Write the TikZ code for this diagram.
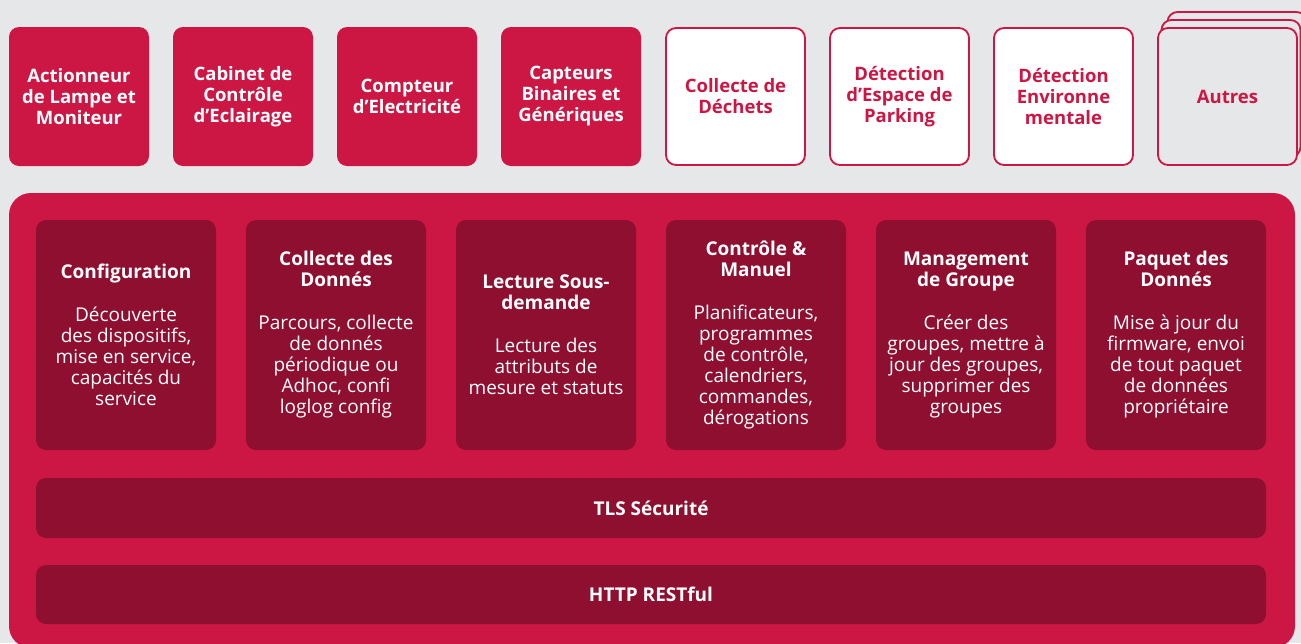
\documentclass[tikz,border=0pt]{standalone}
\usepackage{fontspec}
\setmainfont{Open Sans}
\usetikzlibrary{positioning}
\definecolor{crim}{HTML}{CC1744}
\definecolor{wine}{HTML}{8E0F30}
\definecolor{bggray}{HTML}{E6E7E9}
\newcommand{\labfont}{\fontsize{19}{21}\selectfont}
\newcommand{\devfont}{\fontsize{18.5}{21}\selectfont\bfseries}

\begin{document}
\begin{tikzpicture}[x=1pt, y=1pt,
  dev/.style = {fill=crim, text=white, rounded corners=10pt, minimum width=140pt, minimum height=139pt, inner sep=0pt, outer sep=0pt, align=center, font=\devfont},
  devw/.style = {dev, fill=white, draw=crim, line width=1.8pt, text=crim, minimum width=139pt, minimum height=137pt},
  devo/.style = {devw, fill=bggray},
  func/.style = {fill=wine, text=white, rounded corners=10pt, minimum width=180pt, minimum height=230pt, inner sep=0pt, outer sep=0pt, align=center, font=\labfont},
  bar/.style = {fill=wine, text=white, rounded corners=10pt, minimum width=1230pt, minimum height=60pt, font=\labfont\bfseries},
  node distance=24pt]
  \useasboundingbox (0,0) rectangle (1301,-643);
  \fill[bggray] (0,0) rectangle (1301,-643);

  % devices
  \node[dev] (act) at (79,-96.5) {Actionneur\\de Lampe et\\Moniteur};
  \node[dev, right=of act] (cab) {Cabinet de\\Contrôle\\d’Eclairage};
  \node[dev, right=of cab] (cpt) {Compteur\\d’Electricité};
  \node[dev, right=of cpt] (capt) {Capteurs\\Binaires et\\Génériques};
  \node[devw, right=25pt of capt] (dech) {Collecte de\\Déchets};
  \node[devw, right=25pt of dech] (park) {Détection\\d’Espace de\\Parking};
  \node[devw, right=25pt of park] (env) {Détection\\Environne\\mentale};
  \node[devo] (autres3) at (1237,-80.5) {};
  \node[devo] (autres2) at (1231,-88.5) {};
  \node[devo, right=25pt of env] (autres) {Autres};

  % platform
  \node[fill=crim, rounded corners=22pt, minimum width=1286pt, minimum height=455pt] (plat) at (652,-420.5) {};

  \node[func] (conf) at (126,-335) {\textbf{Configuration}\\[22pt]Découverte\\des dispositifs,\\mise en service,\\capacités du\\service};
  \node[func, right=30pt of conf] (coll) {\textbf{Collecte des}\\\textbf{Donnés}\\[22pt]Parcours, collecte\\de donnés\\périodique ou\\Adhoc, confi\\loglog config};
  \node[func, right=30pt of coll] (lect) {\textbf{Lecture Sous-}\\\textbf{demande}\\[22pt]Lecture des\\attributs de\\mesure et statuts};
  \node[func, right=30pt of lect] (ctrl) {\textbf{Contrôle \&}\\\textbf{Manuel}\\[22pt]Planificateurs,\\programmes\\de contrôle,\\calendriers,\\commandes,\\dérogations};
  \node[func, right=30pt of ctrl] (grp) {\textbf{Management}\\\textbf{de Groupe}\\[22pt]Créer des\\groupes, mettre à\\jour des groupes,\\supprimer des\\groupes};
  \node[func, right=30pt of grp] (paq) {\textbf{Paquet des}\\\textbf{Donnés}\\[22pt]Mise à jour du\\firmware, envoi\\de tout paquet\\de données\\propriétaire};

  \node[bar] (tls) at (651,-508) {TLS Sécurité};
  \node[bar, minimum height=59pt] (http) at (651,-594.5) {HTTP RESTful};
\end{tikzpicture}
\end{document}
